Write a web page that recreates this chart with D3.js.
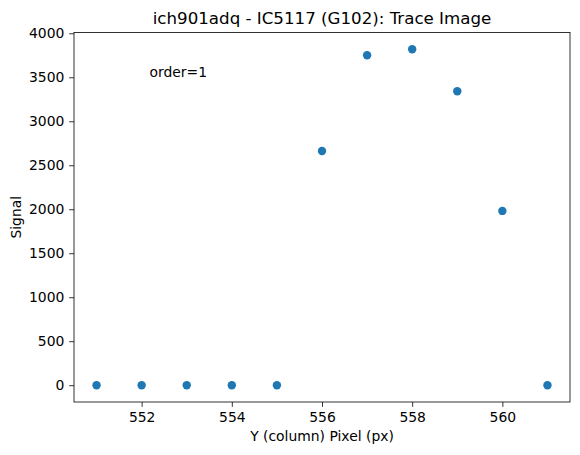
<!DOCTYPE html>
<html><head><meta charset="utf-8">
<script src="https://cdn.jsdelivr.net/npm/d3@7"></script>
<style>body{margin:0;background:#fff}svg{display:block}text{font-family:"DejaVu Sans",sans-serif;fill:#000}</style>
</head><body>
<script>
const pixels = [551, 552, 553, 554, 555, 556, 557, 558, 559, 560, 561];
const signal = [0, 0, 0, 0, 0, 2662, 3750, 3818, 3341, 1981, 0];
const xTicks = [552, 554, 556, 558, 560];
const yTicks = [0, 500, 1000, 1500, 2000, 2500, 3000, 3500, 4000];
const title = "ich901adq - IC5117 (G102): Trace Image";
const annotation = "order=1";

const W = 580, H = 455;
const L = 74, R = 570, T = 32.5, B = 402;
const svg = d3.select("body").append("svg").attr("width", W).attr("height", H);

const xmin = d3.min(pixels), xmax = d3.max(pixels);
const ymin = d3.min(signal), ymax = d3.max(signal);
const xm = (xmax - xmin) * 0.05, ym = (ymax - ymin) * 0.05;
const x = d3.scaleLinear().domain([xmin - xm, xmax + xm]).range([L, R]);
const y = d3.scaleLinear().domain([ymin - ym, ymax + ym]).range([B, T]);

const tl = 4.86;
const fs = "13.9px";
const xa = svg.append("g").attr("transform", `translate(0,${B})`)
  .call(d3.axisBottom(x).tickValues(xTicks).tickFormat(d3.format("d")).tickSize(tl).tickPadding(5.5));
const ya = svg.append("g").attr("transform", `translate(${L},0)`)
  .call(d3.axisLeft(y).tickValues(yTicks).tickFormat(d3.format("d")).tickSize(tl).tickPadding(4.8));
[xa, ya].forEach(a => {
  a.select(".domain").remove();
  a.selectAll("line").attr("stroke", "#000").attr("stroke-width", 0.8);
  a.selectAll("text").attr("font-size", fs).attr("font-family", "DejaVu Sans");
});

svg.append("rect").attr("x", L).attr("y", T).attr("width", R - L).attr("height", B - T)
  .attr("fill", "none").attr("stroke", "#000").attr("stroke-width", 0.8);

svg.append("g").selectAll("circle").data(pixels).join("circle")
  .attr("cx", (d) => x(d)).attr("cy", (d, i) => y(signal[i])).attr("r", 4.2).attr("fill", "#1f77b4");

svg.append("text").attr("x", (L + R) / 2).attr("y", 24).attr("text-anchor", "middle")
  .attr("font-size", "16.67px").text(title);
svg.append("text").attr("x", 149.5).attr("y", 77).attr("font-size", fs).text(annotation);
svg.append("text").attr("x", (L + R) / 2).attr("y", 441).attr("text-anchor", "middle")
  .attr("font-size", fs).text("Y (column) Pixel (px)");
svg.append("text").attr("transform", `translate(21,${(T + B) / 2}) rotate(-90)`).attr("text-anchor", "middle")
  .attr("font-size", fs).text("Signal");
</script>
</body></html>
